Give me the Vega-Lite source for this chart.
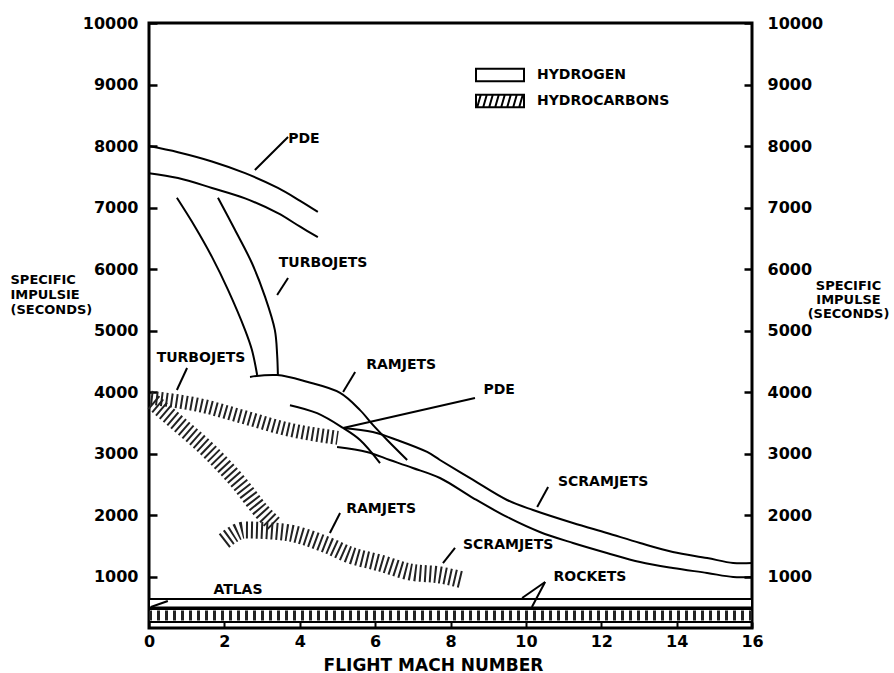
{
  "$schema": "https://vega.github.io/schema/vega-lite/v6.json",
  "width": 603,
  "height": 605,
  "autosize": "none",
  "padding": {"left": 149, "top": 23, "right": 142, "bottom": 45},
  "background": "white",
  "config": {
    "view": {"stroke": "black", "strokeWidth": 3},
    "font": "DejaVu Sans",
    "axis": {"grid": false, "domain": false, "labelOverlap": false}
  },
  "datasets": {
    "curves": [
      {"part": "PDE_up", "x": 0, "y": 8000}, {"part": "PDE_up", "x": 0.77, "y": 7900}, {"part": "PDE_up", "x": 1.67, "y": 7750}, {"part": "PDE_up", "x": 2.55, "y": 7560}, {"part": "PDE_up", "x": 3.42, "y": 7320}, {"part": "PDE_up", "x": 4.01, "y": 7110}, {"part": "PDE_up", "x": 4.48, "y": 6930},
      {"part": "PDE_lo", "x": 0, "y": 7560}, {"part": "PDE_lo", "x": 0.77, "y": 7480}, {"part": "PDE_lo", "x": 1.67, "y": 7320}, {"part": "PDE_lo", "x": 2.55, "y": 7150}, {"part": "PDE_lo", "x": 3.42, "y": 6910}, {"part": "PDE_lo", "x": 4.01, "y": 6690}, {"part": "PDE_lo", "x": 4.48, "y": 6520},
      {"part": "TJ_l", "x": 0.74, "y": 7160}, {"part": "TJ_l", "x": 1.22, "y": 6690}, {"part": "TJ_l", "x": 1.67, "y": 6200}, {"part": "TJ_l", "x": 2.10, "y": 5660}, {"part": "TJ_l", "x": 2.55, "y": 5010}, {"part": "TJ_l", "x": 2.73, "y": 4690}, {"part": "TJ_l", "x": 2.87, "y": 4280},
      {"part": "TJ_r", "x": 1.83, "y": 7160}, {"part": "TJ_r", "x": 2.28, "y": 6640}, {"part": "TJ_r", "x": 2.73, "y": 6100}, {"part": "TJ_r", "x": 3.08, "y": 5550}, {"part": "TJ_r", "x": 3.34, "y": 5010}, {"part": "TJ_r", "x": 3.40, "y": 4610}, {"part": "TJ_r", "x": 3.42, "y": 4280},
      {"part": "RJ_up", "x": 2.68, "y": 4250}, {"part": "RJ_up", "x": 3.40, "y": 4280}, {"part": "RJ_up", "x": 4.19, "y": 4170}, {"part": "RJ_up", "x": 5.07, "y": 3990}, {"part": "RJ_up", "x": 5.60, "y": 3710}, {"part": "RJ_up", "x": 5.94, "y": 3470}, {"part": "RJ_up", "x": 6.32, "y": 3225}, {"part": "RJ_up", "x": 6.85, "y": 2900},
      {"part": "RJ_lo", "x": 3.74, "y": 3790}, {"part": "RJ_lo", "x": 4.46, "y": 3660}, {"part": "RJ_lo", "x": 5.15, "y": 3420}, {"part": "RJ_lo", "x": 5.60, "y": 3225}, {"part": "RJ_lo", "x": 6.13, "y": 2850},
      {"part": "SJ_up", "x": 5.15, "y": 3420}, {"part": "SJ_up", "x": 5.94, "y": 3355}, {"part": "SJ_up", "x": 6.58, "y": 3225}, {"part": "SJ_up", "x": 7.38, "y": 3030}, {"part": "SJ_up", "x": 7.72, "y": 2900}, {"part": "SJ_up", "x": 8.60, "y": 2575}, {"part": "SJ_up", "x": 9.50, "y": 2250}, {"part": "SJ_up", "x": 10.19, "y": 2087}, {"part": "SJ_up", "x": 11.25, "y": 1876}, {"part": "SJ_up", "x": 12.15, "y": 1714}, {"part": "SJ_up", "x": 13.03, "y": 1551}, {"part": "SJ_up", "x": 13.90, "y": 1405}, {"part": "SJ_up", "x": 14.81, "y": 1307}, {"part": "SJ_up", "x": 15.50, "y": 1226}, {"part": "SJ_up", "x": 16, "y": 1226},
      {"part": "SJ_lo", "x": 4.99, "y": 3111}, {"part": "SJ_lo", "x": 5.78, "y": 3030}, {"part": "SJ_lo", "x": 6.39, "y": 2900}, {"part": "SJ_lo", "x": 7.00, "y": 2770}, {"part": "SJ_lo", "x": 7.72, "y": 2607}, {"part": "SJ_lo", "x": 8.60, "y": 2282}, {"part": "SJ_lo", "x": 9.50, "y": 1974}, {"part": "SJ_lo", "x": 10.37, "y": 1730}, {"part": "SJ_lo", "x": 11.25, "y": 1551}, {"part": "SJ_lo", "x": 12.15, "y": 1389}, {"part": "SJ_lo", "x": 13.03, "y": 1242}, {"part": "SJ_lo", "x": 13.90, "y": 1145}, {"part": "SJ_lo", "x": 14.81, "y": 1064}, {"part": "SJ_lo", "x": 15.50, "y": 999}, {"part": "SJ_lo", "x": 16, "y": 999}
    ],
    "hcbands": [
      {"band": "HC1", "x": 0.05, "y": 3910}, {"band": "HC1", "x": 0.69, "y": 3860}, {"band": "HC1", "x": 1.35, "y": 3790}, {"band": "HC1", "x": 2.41, "y": 3615}, {"band": "HC1", "x": 3.74, "y": 3390}, {"band": "HC1", "x": 5.01, "y": 3260},
      {"band": "HC2", "x": 0.11, "y": 3842}, {"band": "HC2", "x": 0.82, "y": 3468}, {"band": "HC2", "x": 1.62, "y": 3030}, {"band": "HC2", "x": 2.41, "y": 2510}, {"band": "HC2", "x": 3.00, "y": 2055}, {"band": "HC2", "x": 3.34, "y": 1844},
      {"band": "HC3", "x": 1.99, "y": 1584}, {"band": "HC3", "x": 2.55, "y": 1762}, {"band": "HC3", "x": 3.56, "y": 1730}, {"band": "HC3", "x": 4.72, "y": 1519}, {"band": "HC3", "x": 5.33, "y": 1356}, {"band": "HC3", "x": 6.13, "y": 1226}, {"band": "HC3", "x": 6.93, "y": 1080}, {"band": "HC3", "x": 7.72, "y": 1031}, {"band": "HC3", "x": 8.33, "y": 950},
      {"band": "ROCKET", "x": 0, "y": 373}, {"band": "ROCKET", "x": 16, "y": 373}
    ],
    "rockets": [
      {"fuel": "HYDROGEN", "lo": 503, "hi": 641},
      {"fuel": "HYDROCARBONS", "lo": 267, "hi": 479}
    ],
    "labels": [
      {"text": "PDE", "x": 4.11, "y": 8115},
      {"text": "TURBOJETS", "x": 4.62, "y": 6101},
      {"text": "TURBOJETS", "x": 1.38, "y": 4557},
      {"text": "RAMJETS", "x": 6.69, "y": 4443},
      {"text": "PDE", "x": 9.29, "y": 4037},
      {"text": "SCRAMJETS", "x": 12.05, "y": 2542},
      {"text": "RAMJETS", "x": 6.16, "y": 2104},
      {"text": "SCRAMJETS", "x": 9.53, "y": 1519},
      {"text": "ATLAS", "x": 2.36, "y": 787},
      {"text": "ROCKETS", "x": 11.70, "y": 999}
    ],
    "pointers": [
      {"x": 3.69, "y": 8148, "x2": 2.81, "y2": 7612},
      {"x": 3.69, "y": 5857, "x2": 3.40, "y2": 5581},
      {"x": 1.01, "y": 4394, "x2": 0.74, "y2": 4037},
      {"x": 5.47, "y": 4329, "x2": 5.15, "y2": 4005},
      {"x": 8.65, "y": 3907, "x2": 5.15, "y2": 3420},
      {"x": 10.59, "y": 2461, "x2": 10.30, "y2": 2136},
      {"x": 5.07, "y": 2039, "x2": 4.80, "y2": 1714},
      {"x": 8.12, "y": 1470, "x2": 7.80, "y2": 1226},
      {"x": 0.05, "y": 511, "x2": 0.50, "y2": 609},
      {"x": 10.51, "y": 917, "x2": 9.90, "y2": 657},
      {"x": 10.51, "y": 917, "x2": 10.16, "y2": 511}
    ]
  },
  "layer": [
    {
      "data": {"name": "curves"},
      "mark": {"type": "line", "color": "black", "strokeWidth": 2, "interpolate": "catmull-rom"},
      "encoding": {
        "x": {"field": "x", "type": "quantitative",
          "scale": {"domain": [0, 16], "nice": false, "zero": false},
          "axis": {"values": [0, 2, 4, 6, 8, 10, 12, 14, 16], "format": "d", "tickSize": -6, "tickWidth": 2, "tickColor": "black",
            "labelPadding": 11, "labelFlush": false, "labelFont": "DejaVu Sans", "labelFontWeight": "bold", "labelFontSize": 16, "labelColor": "black", "labelBaseline": "top",
            "title": "FLIGHT MACH NUMBER", "titleFont": "DejaVu Sans", "titleFontWeight": "bold", "titleFontSize": 17, "titleColor": "black",
            "titleX": 284, "titleY": 37, "titleBaseline": "middle", "titleAlign": "center"}},
        "y": {"field": "y", "type": "quantitative",
          "scale": {"domain": [170, 10000], "nice": false, "zero": false},
          "axis": {"orient": "left", "values": [1000, 2000, 3000, 4000, 5000, 6000, 7000, 8000, 9000, 10000], "format": "d", "tickSize": -8, "tickWidth": 2.5, "tickColor": "black",
            "labelPadding": 19, "labelFlush": false, "labelFont": "DejaVu Sans", "labelFontWeight": "bold", "labelFontSize": 16, "labelColor": "black",
            "title": ["SPECIFIC", "IMPULSIE", "(SECONDS)"], "titleAngle": 0, "titleAlign": "left", "titleBaseline": "top", "titleX": -139, "titleY": 250,
            "titleFont": "DejaVu Sans", "titleFontWeight": "bold", "titleFontSize": 13, "titleLineHeight": 15, "titleColor": "black"}},
        "detail": {"field": "part", "type": "nominal"}
      }
    },
    {
      "data": {"name": "hcbands"},
      "transform": [{"filter": "datum.band === 'HC1'"}],
      "mark": {"type": "line", "color": "#222222", "strokeWidth": 14, "strokeDash": [2, 3], "interpolate": "monotone"},
      "encoding": {
        "x": {"field": "x", "type": "quantitative"},
        "y": {"field": "y", "type": "quantitative",
          "axis": {"orient": "right", "values": [1000, 2000, 3000, 4000, 5000, 6000, 7000, 8000, 9000, 10000], "format": "d", "tickSize": -8, "tickWidth": 2.5, "tickColor": "black",
            "labelPadding": 23, "labelFlush": false, "labelFont": "DejaVu Sans", "labelFontWeight": "bold", "labelFontSize": 16, "labelColor": "black", "labelAlign": "left",
            "title": ["SPECIFIC", "IMPULSE", "(SECONDS)"], "titleAngle": 0, "titleAlign": "center", "titleBaseline": "top", "titleX": 96, "titleY": 256,
            "titleFont": "DejaVu Sans", "titleFontWeight": "bold", "titleFontSize": 13, "titleLineHeight": 14, "titleColor": "black"}}
      }
    },
    {
      "data": {"name": "hcbands"},
      "transform": [{"filter": "datum.band === 'HC2' || datum.band === 'HC3'"}],
      "mark": {"type": "line", "color": "#222222", "strokeWidth": 17, "strokeDash": [2, 3], "interpolate": "monotone"},
      "encoding": {
        "x": {"field": "x", "type": "quantitative"},
        "y": {"field": "y", "type": "quantitative", "axis": null},
        "detail": {"field": "band", "type": "nominal"}
      }
    },
    {
      "data": {"name": "rockets"},
      "mark": {"type": "rect", "fill": "white", "stroke": "black", "strokeWidth": 2},
      "encoding": {
        "x": {"datum": 0, "type": "quantitative"},
        "x2": {"datum": 16},
        "y": {"field": "lo", "type": "quantitative", "axis": null},
        "y2": {"field": "hi"}
      }
    },
    {
      "data": {"name": "hcbands"},
      "transform": [{"filter": "datum.band === 'ROCKET'"}],
      "mark": {"type": "line", "color": "#222222", "strokeWidth": 10, "strokeDash": [3, 5]},
      "encoding": {
        "x": {"field": "x", "type": "quantitative"},
        "y": {"field": "y", "type": "quantitative", "axis": null}
      }
    },
    {
      "data": {"name": "pointers"},
      "mark": {"type": "rule", "color": "black", "strokeWidth": 2},
      "encoding": {
        "x": {"field": "x", "type": "quantitative"},
        "y": {"field": "y", "type": "quantitative", "axis": null},
        "x2": {"field": "x2"},
        "y2": {"field": "y2"}
      }
    },
    {
      "data": {"name": "labels"},
      "mark": {"type": "text", "font": "DejaVu Sans", "fontWeight": "bold", "fontSize": 14, "color": "black", "align": "center", "baseline": "middle"},
      "encoding": {
        "x": {"field": "x", "type": "quantitative"},
        "y": {"field": "y", "type": "quantitative", "axis": null},
        "text": {"field": "text"}
      }
    },
    {
      "data": {"name": "rockets"},
      "mark": {"type": "point", "opacity": 0, "filled": false, "color": "black", "strokeWidth": 2},
      "encoding": {
        "x": {"datum": 8, "type": "quantitative"},
        "y": {"field": "lo", "type": "quantitative", "axis": null},
        "shape": {"field": "fuel", "type": "nominal",
          "scale": {"domain": ["HYDROGEN", "HYDROCARBONS"],
            "range": ["M-1,-1.04H7V1.04H-1Z", "M-1,-1.04H7V1.04H-1Z M-0.8,1.04L-0.2,-1.04 M0.2,1.04L0.8,-1.04 M1.2,1.04L1.8,-1.04 M2.2,1.04L2.8,-1.04 M3.2,1.04L3.8,-1.04 M4.2,1.04L4.8,-1.04 M5.2,1.04L5.8,-1.04 M6.2,1.04L6.8,-1.04"]},
          "legend": {"orient": "none", "legendX": 326, "legendY": 45, "title": null,
            "symbolSize": 144, "symbolOpacity": 1, "symbolStrokeWidth": 2, "symbolStrokeColor": "black",
            "labelFont": "DejaVu Sans", "labelFontWeight": "bold", "labelFontSize": 14, "labelColor": "black", "labelOffset": 48, "rowPadding": 4}}
      }
    }
  ],
  "resolve": {"scale": {"y": "shared"}, "axis": {"y": "independent"}}
}
